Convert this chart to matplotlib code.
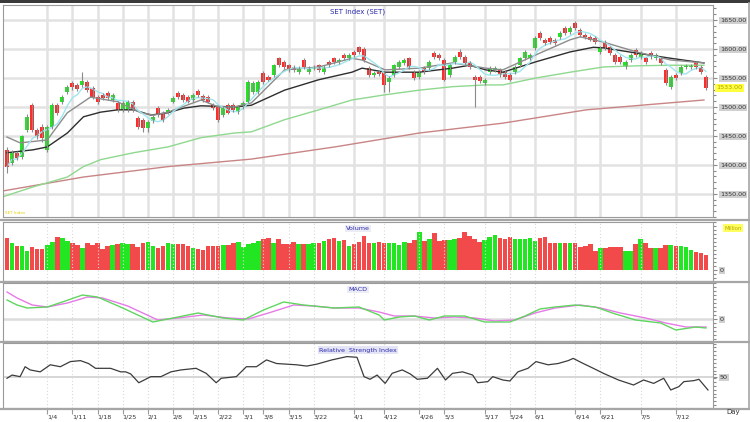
import numpy as np
import pandas as pd
import matplotlib
matplotlib.use('Agg')
import matplotlib.pyplot as plt
from matplotlib.ticker import MultipleLocator
from matplotlib.patches import Rectangle
from matplotlib.lines import Line2D

# daily candles (SET index)
opens = [1426, 1404, 1421, 1414, 1460, 1503, 1460, 1466, 1426, 1466,
         1503, 1509, 1526, 1541, 1538, 1538, 1543, 1533, 1517, 1521,
         1524, 1512, 1507, 1495, 1495, 1509, 1481, 1478, 1464, 1476,
         1498, 1490, 1490, 1509, 1524, 1521, 1517, 1512, 1528, 1519,
         1517, 1503, 1500, 1486, 1503, 1503, 1491, 1500, 1509, 1526,
         1526, 1559, 1552, 1555, 1584, 1578, 1572, 1569, 1560, 1581,
         1560, 1566, 1572, 1560, 1578, 1584, 1578, 1590, 1584, 1595,
         1603, 1600, 1567, 1555, 1560, 1559, 1543, 1555, 1569, 1576,
         1584, 1560, 1552, 1567, 1567, 1593, 1590, 1581, 1555, 1578,
         1595, 1586, 1576, 1552, 1552, 1541, 1560, 1564, 1564, 1560,
         1555, 1560, 1572, 1584, 1584, 1602, 1628, 1616, 1619, 1616,
         1621, 1636, 1629, 1645, 1633, 1624, 1621, 1619, 1595, 1612,
         1603, 1590, 1586, 1569, 1581, 1598, 1586, 1584, 1593, 1584,
         1584, 1564, 1534, 1555, 1559, 1569, 1569, 1576, 1569, 1552]
closes = [1397, 1422, 1412, 1449, 1483, 1460, 1449, 1447, 1466, 1503,
          1490, 1517, 1535, 1534, 1531, 1545, 1529, 1517, 1509, 1516,
          1516, 1521, 1495, 1507, 1509, 1495, 1466, 1464, 1474, 1483,
          1486, 1478, 1495, 1516, 1517, 1512, 1509, 1521, 1521, 1512,
          1509, 1498, 1478, 1498, 1490, 1495, 1500, 1507, 1543, 1541,
          1543, 1543, 1547, 1572, 1572, 1569, 1564, 1564, 1567, 1569,
          1567, 1569, 1564, 1569, 1572, 1578, 1581, 1584, 1590, 1590,
          1595, 1581, 1555, 1559, 1557, 1538, 1550, 1572, 1578, 1581,
          1569, 1550, 1560, 1560, 1578, 1586, 1584, 1547, 1572, 1586,
          1586, 1576, 1569, 1547, 1545, 1547, 1567, 1567, 1555, 1552,
          1547, 1569, 1584, 1595, 1590, 1619, 1619, 1610, 1612, 1610,
          1628, 1628, 1636, 1636, 1624, 1621, 1616, 1612, 1603, 1602,
          1593, 1578, 1578, 1578, 1590, 1590, 1593, 1578, 1586, 1590,
          1576, 1541, 1552, 1550, 1569, 1572, 1572, 1569, 1560, 1533]
highs = [1430, 1426, 1424, 1452, 1487, 1506, 1464, 1470, 1469, 1506,
         1507, 1520, 1538, 1545, 1542, 1560, 1547, 1536, 1520, 1524,
         1527, 1524, 1510, 1510, 1512, 1512, 1484, 1481, 1477, 1486,
         1501, 1493, 1498, 1519, 1527, 1524, 1520, 1524, 1531, 1522,
         1520, 1506, 1503, 1501, 1506, 1506, 1503, 1510, 1546, 1544,
         1546, 1562, 1555, 1575, 1587, 1581, 1575, 1572, 1570, 1584,
         1570, 1572, 1575, 1572, 1581, 1587, 1584, 1593, 1593, 1598,
         1606, 1603, 1570, 1562, 1563, 1562, 1553, 1575, 1581, 1584,
         1587, 1563, 1563, 1570, 1581, 1596, 1593, 1584, 1575, 1589,
         1600, 1589, 1579, 1555, 1555, 1550, 1570, 1570, 1567, 1563,
         1558, 1572, 1587, 1598, 1593, 1622, 1631, 1619, 1622, 1619,
         1631, 1639, 1639, 1648, 1636, 1627, 1624, 1622, 1606, 1615,
         1606, 1593, 1589, 1581, 1593, 1601, 1596, 1587, 1596, 1593,
         1587, 1567, 1555, 1558, 1572, 1575, 1575, 1579, 1572, 1555]
lows = [1386, 1400, 1408, 1410, 1457, 1456, 1444, 1440, 1422, 1462,
        1486, 1505, 1522, 1530, 1527, 1535, 1525, 1513, 1505, 1512,
        1512, 1508, 1491, 1492, 1492, 1491, 1462, 1457, 1457, 1473,
        1483, 1474, 1487, 1506, 1514, 1509, 1506, 1509, 1518, 1509,
        1506, 1495, 1474, 1483, 1487, 1492, 1488, 1497, 1506, 1523,
        1523, 1540, 1544, 1552, 1569, 1566, 1561, 1561, 1557, 1566,
        1557, 1563, 1561, 1557, 1569, 1575, 1575, 1581, 1581, 1587,
        1592, 1578, 1552, 1552, 1554, 1526, 1526, 1552, 1566, 1573,
        1566, 1547, 1549, 1557, 1564, 1583, 1581, 1544, 1552, 1575,
        1583, 1573, 1566, 1500, 1542, 1538, 1557, 1561, 1552, 1549,
        1544, 1557, 1569, 1581, 1581, 1599, 1616, 1607, 1609, 1607,
        1618, 1625, 1626, 1633, 1621, 1618, 1613, 1609, 1592, 1599,
        1590, 1575, 1575, 1566, 1578, 1587, 1583, 1575, 1583, 1581,
        1573, 1538, 1531, 1547, 1556, 1566, 1566, 1566, 1557, 1530]

# volume (million)
volume = [31.7, 26.7, 24.0, 24.0, 19.3, 23.3, 20.7, 20.7, 25.0, 28.3,
          32.7, 31.7, 29.3, 27.3, 25.0, 21.7, 26.7, 25.0, 27.3, 20.7,
          24.0, 25.0, 26.0, 26.7, 26.0, 26.0, 23.3, 26.7, 28.3, 24.0,
          21.7, 24.0, 26.7, 26.0, 25.7, 25.7, 24.0, 21.7, 20.7, 20.0,
          24.0, 24.0, 24.0, 25.0, 25.0, 27.3, 28.3, 23.3, 26.0, 26.7,
          29.3, 30.7, 31.7, 27.3, 30.7, 26.0, 26.0, 28.3, 26.0, 26.0,
          26.0, 26.7, 26.7, 29.3, 30.7, 31.7, 29.3, 30.0, 24.0, 26.0,
          28.3, 34.0, 27.3, 27.3, 28.3, 26.7, 26.7, 27.3, 25.0, 28.3,
          26.7, 30.0, 38.3, 29.3, 30.7, 36.7, 29.3, 30.0, 30.0, 30.7,
          31.7, 38.3, 34.0, 30.7, 28.3, 30.0, 33.3, 35.0, 31.7, 30.7,
          33.3, 30.7, 30.7, 30.7, 31.7, 29.3, 31.7, 33.3, 27.3, 26.7,
          27.3, 27.3, 27.3, 26.7, 23.3, 24.0, 26.0, 19.3, 21.7, 21.7,
          23.3, 23.3, 23.3, 19.3, 19.3, 26.0, 30.7, 26.7, 21.7, 21.7,
          21.7, 25.0, 25.0, 24.0, 24.0, 23.3, 20.0, 18.3, 16.7, 15.0]

# moving averages (day index, value)
ma10_day = [0, 2.6, 8, 12, 16.6, 22, 26.6, 29.2, 32, 38.6, 42, 45.2, 48.6, 55.2, 62,
            68.6, 70.6, 75.2, 82, 88.6, 95.2, 98.6, 105.2, 112, 114, 118.6, 125.2, 132, 138.6]
ma10_val = [1448, 1438, 1443, 1490, 1517, 1509, 1490, 1486, 1491, 1512, 1500, 1500, 1507, 1564, 1569,
            1584, 1581, 1564, 1567, 1576, 1567, 1564, 1590, 1616, 1621, 1612, 1595, 1581, 1576]
ma25_day = [0, 5.2, 8, 12, 15.2, 18.6, 22, 25.2, 28.6, 32, 35.2, 38.6, 45.2, 48.6, 55.2, 62,
            68.6, 70.6, 75.2, 82, 88.6, 92, 95.2, 98.6, 105.2, 112, 116.6, 118.6, 125.2, 132, 138.6]
ma25_val = [1421, 1426, 1431, 1455, 1483, 1491, 1495, 1495, 1486, 1490, 1498, 1502, 1500, 1503, 1529, 1547,
            1560, 1567, 1560, 1560, 1567, 1572, 1564, 1560, 1578, 1595, 1603, 1602, 1593, 1584, 1576]
ma75_day = [-0.8, 5.2, 12, 15.2, 18.6, 25.2, 32, 38.6, 45.2, 48.6, 55.2, 62, 68.6, 75.2, 82,
            88.6, 95.2, 98.6, 105.2, 112, 118.6, 125.2, 132, 138.6]
ma75_val = [1345, 1362, 1379, 1397, 1409, 1421, 1431, 1447, 1455, 1457, 1478, 1495, 1512, 1521, 1529,
            1535, 1538, 1538, 1550, 1560, 1569, 1571, 1572, 1572]
ma200_day = [-0.8, 15.2, 32, 48.6, 65.2, 82, 98.6, 115.2, 138.6]
ma200_val = [1355, 1379, 1397, 1410, 1431, 1455, 1472, 1495, 1512]

# MACD and signal line
macd_day = [0, 2, 4, 8, 11, 15, 18, 23, 29, 33, 38, 43, 47, 51, 55, 59, 65, 70, 74, 75,
            78, 81, 84, 87, 91, 95, 100, 103, 106, 109, 113, 117, 121, 125, 130, 133, 137, 139]
macd_val = [19, 14, 11, 12, 17, 24, 22, 11, -3, 1, 6, 1, -1, 9, 17, 14, 11, 12, 4, -1,
            2, 3, -1, 3, 3, -3, -3, 3, 10, 12, 14, 12, 5, -1, -4, -11, -8, -9]
signal_day = [0, 2, 5, 8, 12, 16, 19, 24, 30, 34, 39, 44, 48, 52, 57, 61, 65, 70, 74, 77,
              81, 85, 89, 93, 97, 101, 105, 109, 114, 118, 122, 127, 131, 135, 139]
signal_val = [27, 21, 14, 12, 16, 22, 21, 13, -1, 1, 4, 1, 0, 6, 14, 13, 11, 11, 7, 3,
              3, 1, 2, 1, -2, -1, 6, 11, 14, 11, 6, 1, -4, -8, -8]

# RSI
rsi_day = [0, 1, 2.6, 3.6, 4.6, 6.6, 8.6, 10.6, 12.6, 14.6, 16.2, 17.6, 20.6, 22.6, 23.6, 24.6,
           26.2, 28.6, 30.6, 32.6, 34.6, 37.6, 39.6, 41.6, 42.6, 45.6, 47.6, 49.6, 51.6, 53.6,
           55.6, 57.6, 59.6, 61.6, 64.6, 67.6, 69.6, 71, 72.2, 73.6, 75.2, 76.6, 78.6, 80.2,
           81.6, 83.6, 84.6, 85.6, 87.2, 88.6, 90.6, 92.6, 93.6, 95.6, 96.6, 98.6, 100, 101.6,
           103.6, 105.2, 107.6, 109.6, 111.6, 112.6, 114.6, 116.6, 118.6, 121.6, 124.6, 126.6,
           128.6, 130.6, 132, 133.6, 134.6, 136.6, 137.6, 139.4]
rsi_val = [48, 53, 50.5, 66, 61, 58, 69, 66, 74, 75.5, 71, 63.5, 63.5, 58, 58, 54.7,
           41, 50.5, 50.5, 58, 61, 63.5, 55.7, 41, 48, 50.5, 66, 66, 76.6, 71,
           70, 69, 67, 70, 76.6, 81.8, 80.7, 50.5, 46.4, 53, 40, 55.7, 61, 54.7,
           46.4, 48, 55.7, 63.5, 45.3, 55.7, 58, 53, 41, 42.7, 50.5, 45.3, 43.7, 58,
           63.5, 74, 69, 71, 75.5, 79, 71, 63.5, 55.7, 45.3, 37.5, 45.3,
           40, 48, 29.7, 34.9, 42.7, 44.3, 46.4, 29.7]

tick_days = [8, 13, 18, 23, 28, 33, 37, 42, 47, 51, 56, 61, 69, 75, 82, 87, 95, 100, 105, 113, 118, 126, 133]
tick_labels = ['1/4', '1/11', '1/18', '1/25', '2/1', '2/8', '2/15', '2/22', '3/1', '3/8', '3/15', '3/22',
               '4/1', '4/12', '4/26', '5/3', '5/17', '5/24', '6/1', '6/14', '6/21', '7/5', '7/12']

days = np.arange(len(closes))
o = np.array(opens)
c = np.array(closes)
up = c >= o
UP = '#1ee81e'
DN = '#ff2b2b'
TITLE = '#2b2bb0'

fig = plt.figure(figsize=(7.5, 4.22), dpi=100)
W, H = 750.0, 422.0


def panel(top, bottom):
    ax = fig.add_axes([3 / W, 1 - bottom / H, 710 / W, (bottom - top) / H])
    ax.set_xlim(-0.8, 140.4)
    for s in ax.spines.values():
        s.set_color('#9a9a9a')
    ax.yaxis.tick_right()
    ax.tick_params(axis='y', which='both', direction='out', colors='#8a8a8a',
                   labelcolor='#333333', labelsize=4.6, length=3, width=0.8, pad=2)
    ax.tick_params(axis='y', which='minor', length=2)
    ax.tick_params(axis='x', which='both', length=0, labelbottom=False)
    ax.set_xticks(tick_days)
    return ax


def box_labels(ax):
    for lbl in ax.get_yticklabels():
        lbl.set_bbox(dict(boxstyle='square,pad=0.2', fc='#d0d0d0', ec='none'))


# ---- price panel
ax1 = panel(5, 217)
ax1.set_ylim(1310, 1676)
ax1.set_yticks([1350, 1400, 1450, 1500, 1550, 1600, 1650])
ax1.set_yticklabels(['%.2f' % v for v in [1350, 1400, 1450, 1500, 1550, 1600, 1650]])
ax1.yaxis.set_minor_locator(MultipleLocator(10))
ax1.grid(True, color='#e2e2e2', lw=1.8)
ax1.set_axisbelow(True)
box_labels(ax1)

ax1.plot(ma200_day, ma200_val, color='#c98585', lw=1.0)
ax1.plot(ma75_day, ma75_val, color='#8fd88f', lw=1.0)
ax1.plot(ma25_day, ma25_val, color='#2e2e2e', lw=1.0)
ax1.plot(ma10_day, ma10_val, color='#8c8c8c', lw=1.0)
ax1.plot(days, pd.Series(closes).rolling(5, min_periods=1).mean(), color='#9fe6ee', lw=1.0)

ax1.vlines(days, lows, highs, color='#8a8a8a', lw=0.8)
body_lo = np.minimum(o, c)
body_h = np.maximum(np.abs(c - o), 1.5)
ax1.bar(days, body_h, bottom=body_lo, width=0.8, color=np.where(up, UP, DN), lw=0)

ax1.text(0.5, 0.985, 'SET Index (SET)', transform=ax1.transAxes, ha='center', va='top',
         fontsize=5, color=TITLE)
ax1.text(1.005, closes[-1], '%.2f' % closes[-1], transform=ax1.get_yaxis_transform(),
         ha='left', va='center', fontsize=4.6, color='#b0a000',
         bbox=dict(boxstyle='square,pad=0.25', fc='#ffff40', ec='none'))
ax1.text(0.003, 0.01, 'SET Index', transform=ax1.transAxes, ha='left', va='bottom',
         fontsize=3, color='#e0d000')

# ---- volume panel
ax2 = panel(222, 281)
ax2.set_ylim(-11, 48)
ax2.set_yticks([0])
ax2.yaxis.set_minor_locator(MultipleLocator(4))
ax2.grid(True, axis='x', color='#d8d8d8', lw=0.8, ls=(0, (1, 2)))
box_labels(ax2)
ax2.bar(days, volume, width=0.9, color=np.where(up, '#22e622', '#f24a4a'), lw=0)
ax2.text(0.5, 0.93, 'Volume', transform=ax2.transAxes, ha='center', va='top',
         fontsize=4.6, color=TITLE, bbox=dict(boxstyle='square,pad=0.2', fc='#ececf4', ec='none'))

# ---- MACD panel
ax3 = panel(283, 341)
ax3.set_ylim(-22, 36)
ax3.set_yticks([0])
ax3.yaxis.set_minor_locator(MultipleLocator(4))
ax3.grid(True, axis='x', color='#d8d8d8', lw=0.8, ls=(0, (1, 2)))
ax3.axhline(0, color='#dcdcdc', lw=1.8)
box_labels(ax3)
ax3.plot(signal_day, signal_val, color='#e67ae6', lw=1.0)
ax3.plot(macd_day, macd_val, color='#5fd65f', lw=1.0)
ax3.text(0.5, 0.93, 'MACD', transform=ax3.transAxes, ha='center', va='top',
         fontsize=4.6, color=TITLE, bbox=dict(boxstyle='square,pad=0.2', fc='#ececf4', ec='none'))

# ---- RSI panel
ax4 = panel(343, 408)
ax4.set_ylim(1.6, 103)
ax4.set_yticks([50])
ax4.yaxis.set_minor_locator(MultipleLocator(6))
ax4.grid(True, axis='x', color='#d8d8d8', lw=0.8, ls=(0, (1, 2)))
ax4.axhline(50, color='#d6d6d6', lw=1.4)
box_labels(ax4)
ax4.plot(rsi_day, rsi_val, color='#3c3c3c', lw=0.9)
ax4.text(0.5, 0.93, 'Relative  Strength Index', transform=ax4.transAxes, ha='center', va='top',
         fontsize=4.6, color=TITLE, bbox=dict(boxstyle='square,pad=0.2', fc='#e4e4f4', ec='none'))
ax4.tick_params(axis='x', labelbottom=True, length=4, color='#9a9a9a', labelsize=4.6,
                labelcolor='#333333', pad=1)
ax4.set_xticklabels(tick_labels, ha='left')

# frame / separators
fig.add_artist(Rectangle((0, 1 - 3 / H), 1, 3 / H, transform=fig.transFigure,
                         color='#3a3a3a', lw=0))
for yy in [219.5, 282, 342, 409]:
    fig.add_artist(Line2D([0, 1], [1 - yy / H, 1 - yy / H], transform=fig.transFigure,
                          color='#a6a6a6', lw=1.6))
fig.add_artist(Line2D([0.998, 0.998], [1 - 409 / H, 1 - 3 / H], transform=fig.transFigure,
                      color='#a6a6a6', lw=1.2))
fig.text(733 / W, 1 - 228 / H, 'Million', ha='center', va='center', fontsize=4,
         color='#b8a800', bbox=dict(boxstyle='square,pad=0.2', fc='#ffff60', ec='none'))
fig.text(733 / W, 1 - 412 / H, 'Day', ha='center', va='center', fontsize=5, color='#333333')

fig.savefig('out.png', dpi=100)
